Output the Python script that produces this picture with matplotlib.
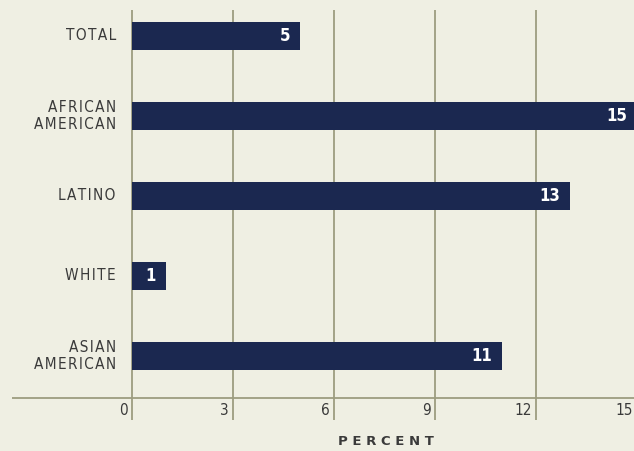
import matplotlib.pyplot as plt

categories = ["TOTAL", "AFRICAN\nAMERICAN", "LATINO", "WHITE", "ASIAN\nAMERICAN"]
values = [5, 15, 13, 1, 11]
ticks = [0, 3, 6, 9, 12, 15]

bg = "#efefe3"
bar_color = "#1b2850"
grid_color = "#9c9c80"
text_color = "#3a3a3a"
font = ["DejaVu Sans", "Liberation Sans"]


def spaced(s):
    # the original uses loose letter spacing
    return "\n".join("\u200a".join(line) for line in s.split("\n"))


fig = plt.figure(figsize=(6.34, 4.51), dpi=100, facecolor=bg)
ax = fig.add_axes([0, 0, 1, 1])
ax.set_facecolor(bg)
ax.set_xlim(-3.92, 14.91)
ax.set_ylim(5.19, -0.45)
ax.axis('off')

ypos = list(range(len(categories)))

# gridlines first, bars on top
ax.vlines(ticks, -0.325, 4.8, color=grid_color, linewidth=1.3, zorder=1)
ax.hlines(4.525, -3.56, 15, color=grid_color, linewidth=1.3, zorder=1)

ax.barh(ypos, values, height=0.35, color=bar_color, zorder=2)

for y, v, c in zip(ypos, values, categories):
    ax.text(v - 0.3, y, str(v), color="white", ha="right", va="center",
            fontsize=12, fontweight="bold", fontstretch="condensed",
            family=font, zorder=3)
    ax.text(-0.48, y, spaced(c), color=text_color, ha="right", va="center",
            fontsize=11, fontstretch="condensed", family=font, linespacing=1.2)

for t in ticks:
    ax.text(t - 0.12, 4.68, str(t), color=text_color, ha="right", va="center",
            fontsize=11, fontstretch="condensed", family=font)

ax.text(7.55, 5.075, "P E R C E N T", color=text_color, ha="center", va="center",
        fontsize=9.5, fontweight="bold", family=font)

fig.savefig("out.png", dpi=100, facecolor=bg)
